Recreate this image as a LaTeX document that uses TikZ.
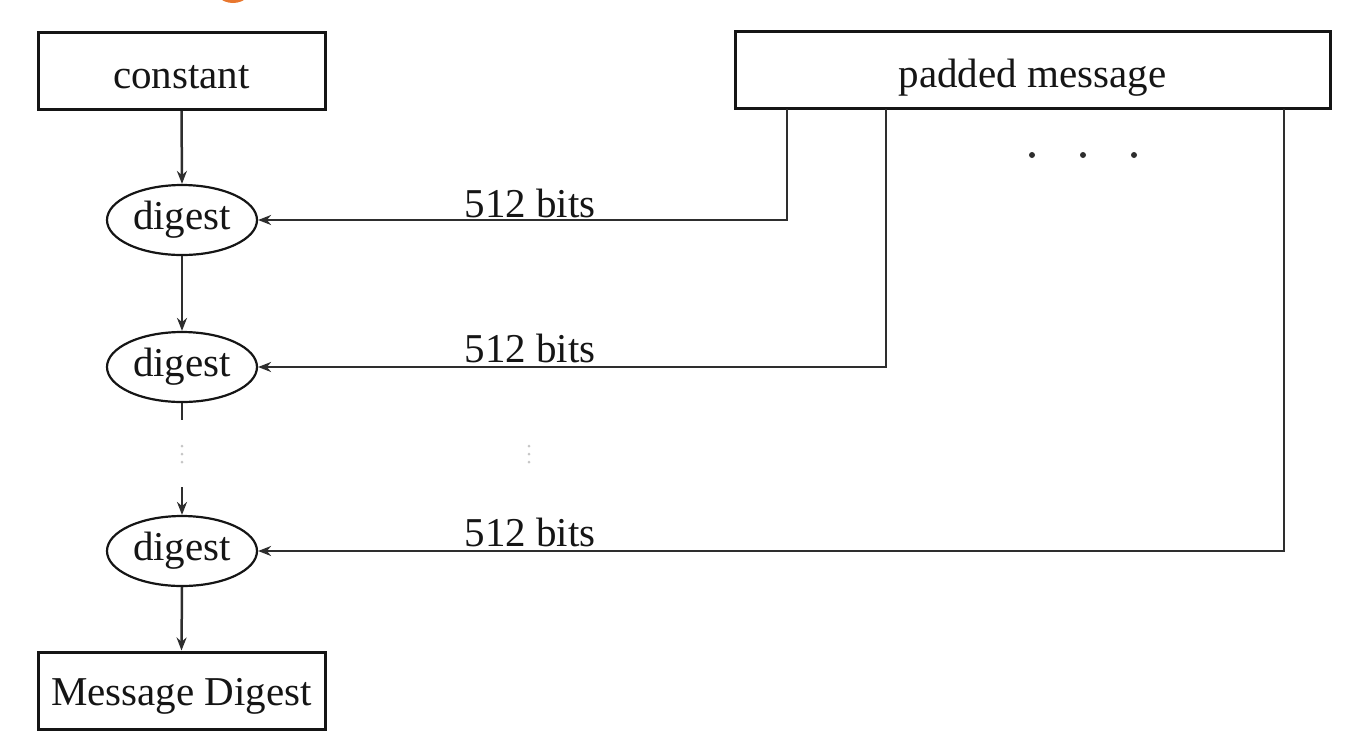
\documentclass[tikz,border=0pt]{standalone}
\usepackage{fontspec}
\setmainfont{Liberation Serif}
\usetikzlibrary{shapes.geometric,arrows.meta}
\definecolor{ink}{HTML}{151515}
\definecolor{wire}{HTML}{2E2E2E}
\definecolor{accent}{HTML}{E8772E}
\tikzset{
  boxnode/.style={draw=ink, line width=3pt, rectangle, minimum height=77pt, inner sep=0pt, font=\fontsize{41}{49}\selectfont, text=ink, text depth=0pt},
  digestnode/.style={draw=ink, line width=2.2pt, ellipse, minimum width=150pt, minimum height=70pt, inner sep=0pt, font=\fontsize{41}{49}\selectfont, text=ink},
  conn/.style={draw=wire, line width=2.5pt, -{Stealth[length=13pt,width=10pt]}},
  plain/.style={draw=wire, line width=2.5pt},
  lbl/.style={font=\fontsize{41}{49}\selectfont, text=ink, anchor=base, inner sep=0pt},
  faintdot/.style={fill=gray!45, draw=none}
}
\begin{document}
\begin{tikzpicture}[x=1pt,y=-1pt]
\useasboundingbox (0,0) rectangle (1363,748);
\begin{scope}
\clip (0,0) rectangle (1363,748);
\fill[accent] (233,-19) ellipse (22pt and 22pt);
\end{scope}
% boxes
\node[boxnode, minimum width=287pt] (const) at (181.5,71) {};
\node[boxnode, minimum width=595pt] (pad) at (1032.5,70) {};
\node[boxnode, minimum width=287pt] (md) at (181.5,690.5) {};
\node[lbl] (tc) at (181.5,88) {constant};
\node[lbl] (tp) at (1032.5,87) {padded message};
\node[lbl] (tm) at (181.5,705) {Message Digest};
% digests
\node[digestnode] (d1) at (182,220) {digest};
\node[digestnode] (d2) at (182,367) {digest};
\node[digestnode] (d3) at (182,551) {digest};
% helper coordinates
\coordinate (p1) at (787,109);
\coordinate (p2) at (886,109);
\coordinate (p3) at (1284,109);
\coordinate (g1) at (182,420);
\coordinate (g2) at (182,487);
% vertical chain
\draw[conn] (const.south) -- (d1.north);
\draw[conn] (d1.south) -- (d2.north);
\draw[plain] (d2.south) -- (g1);
\draw[conn] (g2) -- (d3.north);
\draw[conn] (d3.south) -- (md.north);
% message blocks
\draw[conn] (p1) |- (d1.east);
\draw[conn] (p2) |- (d2.east);
\draw[conn] (p3) |- (d3.east);
% labels
\node[lbl] (l1) at (530,217) {512 bits};
\node[lbl] (l2) at (530,362) {512 bits};
\node[lbl] (l3) at (530,546) {512 bits};
% dots
\foreach \xx in {1032,1083,1134} \fill[wire] (\xx,155) circle (3pt);
\foreach \yy in {446,454,462} {
  \fill[faintdot] (182,\yy) circle (1.5pt);
  \fill[faintdot] (529,\yy) circle (1.5pt);
}
\end{tikzpicture}
\end{document}
